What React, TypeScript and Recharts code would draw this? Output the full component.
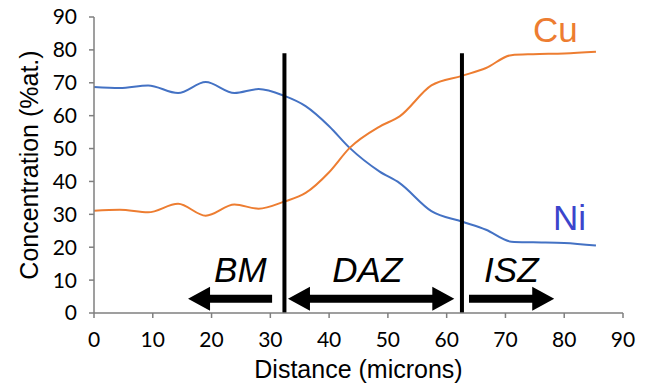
import React from 'react';
import {
  LineChart,
  Line,
  XAxis,
  YAxis,
  Label,
  ReferenceLine,
  ReferenceDot,
} from 'recharts';

// distance (microns) and concentration (%at.)
const distance = [0, 4.4, 9.2, 14.3, 19, 23.9, 28, 32.4, 36, 40, 43.5, 48.6, 52, 57.4, 62.6, 66.7, 71, 74.7, 80, 85.4];
const ni = [68.7, 68.4, 69.2, 66.9, 70.2, 66.9, 68.1, 66.0, 62.9, 56.8, 50.2, 43.0, 39.5, 31.0, 27.8, 25.3, 21.7, 21.5, 21.3, 20.5];
const cu = [31.1, 31.4, 30.6, 33.2, 29.6, 33.0, 31.7, 33.9, 36.5, 42.8, 50.2, 56.7, 59.8, 69.2, 72.1, 74.5, 78.4, 78.7, 78.9, 79.4];

const xTicks = [0, 10, 20, 30, 40, 50, 60, 70, 80, 90];
const yTicks = [0, 10, 20, 30, 40, 50, 60, 70, 80, 90];

// zone boundaries (x) and how high they reach (y)
const boundaries = [32.4, 62.6];
const boundaryTop = 79;

// zone arrows: start x, end x, height, heads
const arrows = [
  { name: 'BM', from: 30.3, to: 16, y: 4.3, startHead: false, endHead: true },
  { name: 'DAZ', from: 33, to: 61.3, y: 4.3, startHead: true, endHead: true },
  { name: 'ISZ', from: 63.8, to: 78.3, y: 4.3, startHead: false, endHead: true },
];

// zone names
const zoneLabels = [
  { text: 'BM', x: 24.9, y: 9.5 },
  { text: 'DAZ', x: 46.5, y: 9.5 },
  { text: 'ISZ', x: 71, y: 9.5 },
];

// series names written next to the curves
const seriesLabels = [
  { text: 'Cu', x: 78.5, y: 82.5, color: '#ED7D31' },
  { text: 'Ni', x: 80.9, y: 25.3, color: '#3B45CC' },
];

const data = distance.map((d, i) => ({ d, ni: ni[i], cu: cu[i] }));

const axisColor = '#7f7f7f';
const tickStyle = { fontFamily: 'Lato, sans-serif', fontSize: 21, fill: '#000' };

const arrowShape = (startHead: boolean, endHead: boolean) => (props: any) => {
  const { x1, x2, y1 } = props;
  const y = y1;
  const dir = x2 > x1 ? 1 : -1;
  const L = 22;
  const H = 12;
  const T = 4;
  const a = startHead ? x1 + dir * L : x1;
  const b = endHead ? x2 - dir * L : x2;
  const pts: number[][] = [];
  if (startHead) pts.push([x1, y], [a, y - H], [a, y - T]);
  else pts.push([x1, y - T]);
  pts.push([b, y - T]);
  if (endHead) pts.push([b, y - H], [x2, y], [b, y + H]);
  pts.push([b, y + T]);
  if (startHead) pts.push([a, y + T], [a, y + H]);
  else pts.push([x1, y + T]);
  return <polygon points={pts.map((p) => p.join(',')).join(' ')} fill="#000" />;
};

const textShape = (text: string, color: string, italic: boolean) => (props: any) => (
  <text
    x={props.cx}
    y={props.cy}
    textAnchor="middle"
    fill={color}
    fontFamily="'Liberation Sans', Arial, sans-serif"
    fontSize={35}
    fontStyle={italic ? 'italic' : 'normal'}
  >
    {text}
  </text>
);

export default function App() {
  return (
    <div style={{ position: 'absolute', left: 0, top: 0, background: '#fff' }}>
      <LineChart width={649} height={386} data={data} margin={{ top: 17, right: 26, bottom: 0, left: 0 }}>
        <XAxis
          dataKey="d"
          type="number"
          domain={[0, 90]}
          ticks={xTicks}
          interval={0}
          height={73}
          stroke={axisColor}
          strokeWidth={1.5}
          tickSize={5}
          tickMargin={14}
          tick={tickStyle}
        >
          <Label
            value="Distance (microns)"
            position="insideBottom"
            offset={8}
            style={{ fontFamily: "'Liberation Sans', Arial, sans-serif", fontSize: 25, fill: '#000' }}
          />
        </XAxis>
        <YAxis
          type="number"
          domain={[0, 90]}
          ticks={yTicks}
          interval={0}
          width={94}
          stroke={axisColor}
          strokeWidth={1.5}
          tickSize={5}
          tickMargin={12}
          tick={tickStyle}
        >
          <Label
            value="Concentration (%at.)"
            angle={-90}
            position="insideLeft"
            offset={29}
            style={{ textAnchor: 'middle', fontFamily: "'Liberation Sans', Arial, sans-serif", fontSize: 25, fill: '#000' }}
          />
        </YAxis>
        <Line type="monotone" dataKey="ni" stroke="#4472C4" strokeWidth={2} dot={false} isAnimationActive={false} />
        <Line type="monotone" dataKey="cu" stroke="#ED7D31" strokeWidth={2} dot={false} isAnimationActive={false} />
        {boundaries.map((bx) => (
          <ReferenceLine
            key={bx}
            segment={[{ x: bx, y: 0 }, { x: bx, y: boundaryTop }]}
            stroke="#000"
            strokeWidth={4}
          />
        ))}
        {arrows.map((a) => (
          <ReferenceLine
            key={a.name}
            segment={[{ x: a.from, y: a.y }, { x: a.to, y: a.y }]}
            shape={arrowShape(a.startHead, a.endHead)}
          />
        ))}
        {zoneLabels.map((z) => (
          <ReferenceDot key={z.text} x={z.x} y={z.y} r={0} shape={textShape(z.text, '#000', true)} />
        ))}
        {seriesLabels.map((s) => (
          <ReferenceDot key={s.text} x={s.x} y={s.y} r={0} shape={textShape(s.text, s.color, false)} />
        ))}
      </LineChart>
    </div>
  );
}
